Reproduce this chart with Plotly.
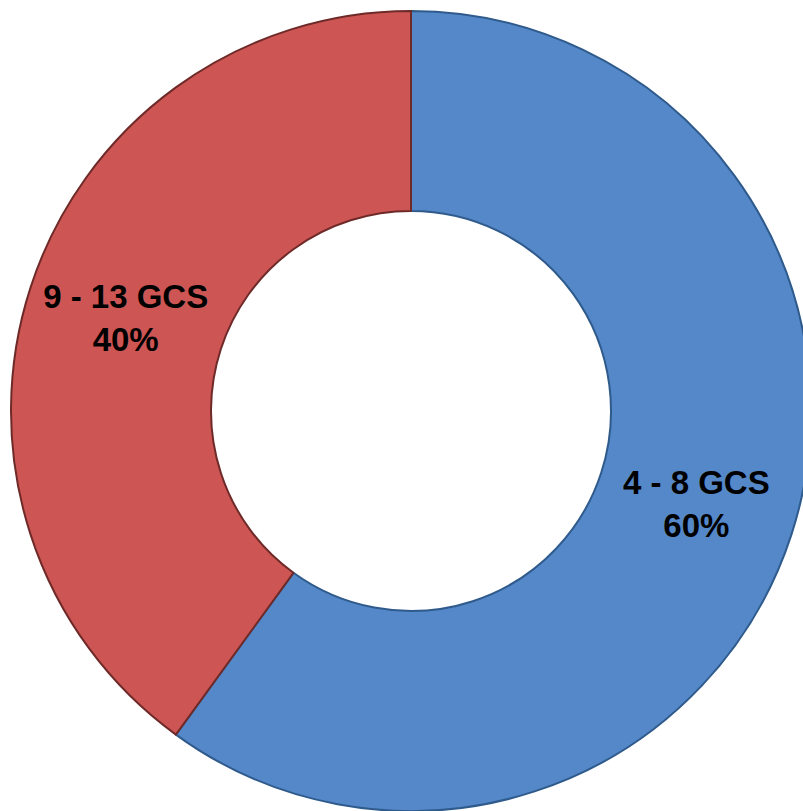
import plotly.graph_objects as go

categories = ["4 - 8 GCS", "9 - 13 GCS"]
values = [60, 40]
slice_colors = ["#5588C8", "#CD5654"]
edge_colors = ["#2F5A8C", "#6E2A28"]

fig = go.Figure(go.Pie(
    labels=categories,
    values=values,
    hole=0.5,
    sort=False,
    direction="clockwise",
    rotation=0,
    marker=dict(colors=slice_colors, line=dict(color=edge_colors, width=2)),
    textposition="inside",
    insidetextorientation="horizontal",
    texttemplate="<b>%{label}<br>%{percent:.0%}</b>",
    textfont=dict(family="Liberation Sans, Arial, sans-serif", size=33, color="#000000"),
    showlegend=False,
    hoverinfo="label+percent",
))

fig.update_layout(
    width=811,
    height=811,
    margin=dict(l=11, r=0, t=11, b=0),
    paper_bgcolor="white",
    plot_bgcolor="white",
)

fig.write_html(
    "out.html",
    config={"displayModeBar": False},
    post_script="document.body.style.margin='0';document.body.style.overflow='hidden';document.documentElement.style.overflow='hidden';",
)
